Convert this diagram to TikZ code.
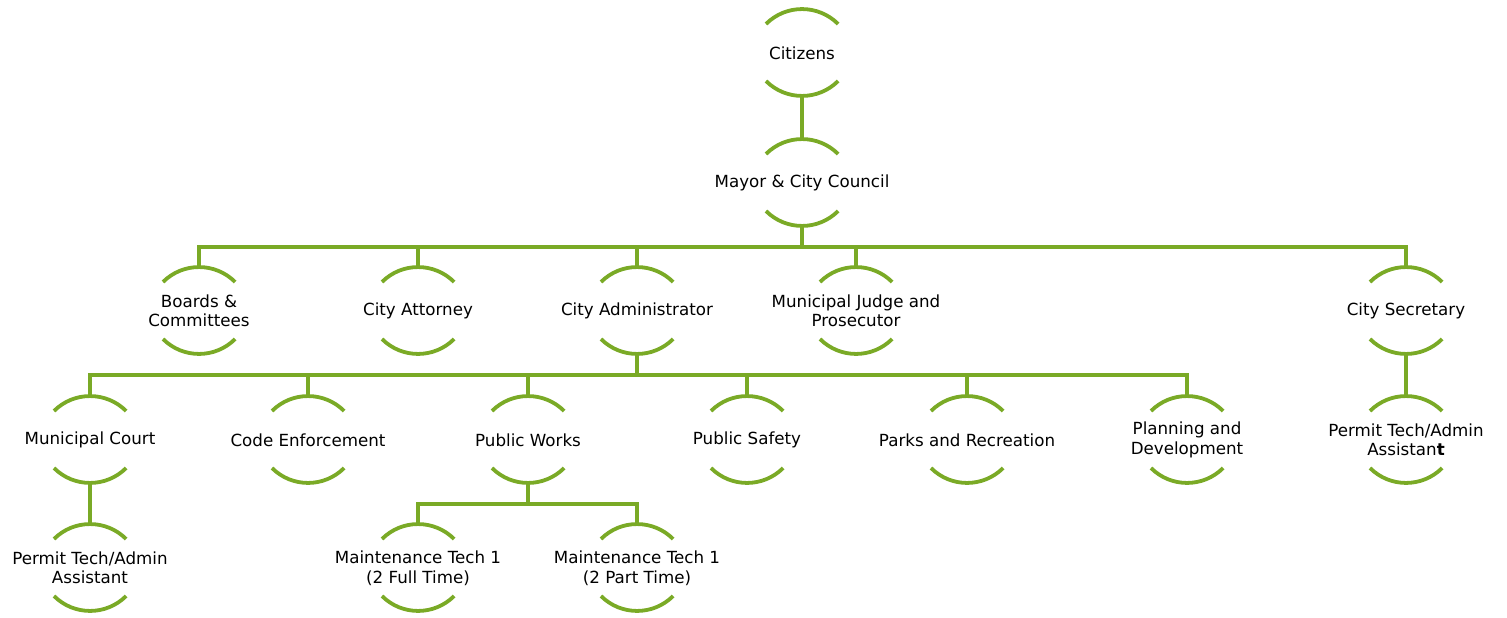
\documentclass[tikz,border=0pt]{standalone}
\usepackage{fontspec}
\setmainfont{DejaVu Sans}
\definecolor{leaf}{RGB}{122,170,38}
\tikzset{
  unit/.style={rectangle,inner sep=0pt,minimum height=88pt,align=center,
    font=\fontsize{16.7}{19.5}\selectfont},
  bracket/.style={leaf,line width=3.8pt},
  link/.style={leaf,line width=3.8pt}
}

\begin{document}
\begin{tikzpicture}[x=1pt,y=1pt]
  \useasboundingbox (0,0) rectangle (1507,-618);
  % Top of the chart
  \node[unit]   (cit)   at (802,-53)  {Citizens};
  \node[unit]   (may)   at (802,-183) {Mayor \& City Council};
  % Second row
  \node[unit]   (brd)   at (199,-311)  {Boards \&\\Committees};
  \node[unit]   (att)   at (418,-311)  {City Attorney};
  \node[unit]   (adm)   at (637,-311)  {City Administrator};
  \node[unit]   (jud)   at (856,-311)  {Municipal Judge and\\Prosecutor};
  \node[unit]   (sec)   at (1406,-311) {City Secretary};
  % Third row
  \node[unit]   (crt)   at (90,-440)   {Municipal Court};
  \node[unit]   (cod)   at (308,-440)  {Code Enforcement};
  \node[unit]   (pwk)   at (528,-440)  {Public Works};
  \node[unit]   (psf)   at (747,-440)  {Public Safety};
  \node[unit]   (prk)   at (967,-440)  {Parks and Recreation};
  \node[unit]   (pln)   at (1187,-440) {Planning and\\Development};
  \node[unit]   (pts)   at (1406,-440) {Permit Tech/Admin\\Assistan{\bfseries t}};
  % Bottom row
  \node[unit]   (ptc)   at (90,-568)   {Permit Tech/Admin\\Assistant};
  \node[unit]   (mt1)   at (418,-568)  {Maintenance Tech 1\\(2 Full Time)};
  \node[unit]   (mt2)   at (637,-568)  {Maintenance Tech 1\\(2 Part Time)};
  % arcs above and below every unit
  \foreach \n in {cit,may,brd,att,adm,jud,sec,crt,cod,pwk,psf,prk,pln,pts,ptc,mt1,mt2} {
    \draw[bracket] ([shift={(-36,29)}]\n.center) arc[start angle=135,end angle=45,radius=51];
    \draw[bracket] ([shift={(-36,-28)}]\n.center) arc[start angle=225,end angle=315,radius=51];
  }
  % connectors
  \draw[link] (cit.south) -- (may.north);
  \draw[link] (may.south) -- ++(0,-20) coordinate (bar2);
  \foreach \c in {brd,att,adm,jud,sec}
    \draw[link] (bar2) -| (\c.north);
  \draw[link] (adm.south) -- ++(0,-20) coordinate (bar3);
  \foreach \c in {crt,cod,pwk,psf,prk,pln}
    \draw[link] (bar3) -| (\c.north);
  \draw[link] (sec.south) -- (pts.north);
  \draw[link] (crt.south) -- (ptc.north);
  \draw[link] (pwk.south) -- ++(0,-20) coordinate (bar4);
  \foreach \c in {mt1,mt2}
    \draw[link] (bar4) -| (\c.north);
\end{tikzpicture}
\end{document}
